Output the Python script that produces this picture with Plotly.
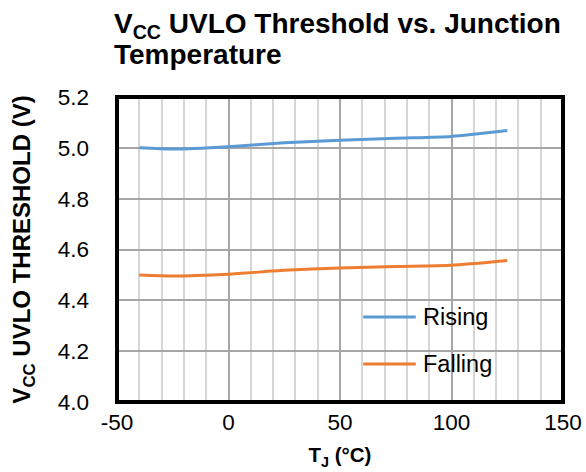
import plotly.graph_objects as go

# Junction temperature (°C) and UVLO thresholds (V)
temp_c = [-40, -25, 0, 25, 50, 75, 100, 125]
rising_v = [5.000, 4.995, 5.004, 5.020, 5.030, 5.038, 5.045, 5.068]
falling_v = [4.500, 4.496, 4.503, 4.518, 4.527, 4.533, 4.538, 4.557]
series_names = ["Rising", "Falling"]
series_colors = ["#5B9BD5", "#ED7D31"]
x_ticks = [-50, 0, 50, 100, 150]
x_tick_text = ["-50", "0", "50", "100", "150"]
title_lines = ["V<sub>CC</sub> UVLO Threshold vs. Junction", "Temperature"]

FONT = "Liberation Sans, Arial, sans-serif"

fig = go.Figure()
for name, vals, color in zip(series_names, [rising_v, falling_v], series_colors):
    fig.add_trace(go.Scatter(
        x=temp_c, y=vals, name=name, mode="lines",
        line=dict(color=color, width=3, shape="spline", smoothing=0.6),
        showlegend=False,
    ))

# Legend panel: white box over the gridlines, with line samples and labels
fig.add_shape(type="rect", xref="paper", yref="paper",
              x0=0.439, x1=0.953, y0=0.046, y1=0.357,
              fillcolor="white", line=dict(width=0), layer="between")
legend_y = [0.279, 0.125]
for name, color, ly in zip(series_names, series_colors, legend_y):
    fig.add_shape(type="line", xref="paper", yref="paper",
                  x0=0.552, x1=0.670, y0=ly, y1=ly,
                  line=dict(color=color, width=3))
    fig.add_annotation(text=name, xref="paper", yref="paper",
                       x=0.681, y=ly, xanchor="left", yanchor="middle",
                       showarrow=False, font=dict(family=FONT, size=23.5, color="black"))

# Two-line chart title
for line, ypx in zip(title_lines, [25, 55]):
    fig.add_annotation(text=line, xref="paper", yref="paper",
                       x=(112 - 117) / 446, y=1 + (97 - ypx) / 305,
                       xanchor="left", yanchor="middle", showarrow=False,
                       font=dict(family=FONT, size=28, color="black", weight="bold"))

# Heavy frame around the plotting area
fig.add_shape(type="rect", xref="paper", yref="paper", x0=0, x1=1, y0=0, y1=1,
              line=dict(color="black", width=4), layer="above")

fig.update_layout(
    width=586, height=472,
    margin=dict(l=117, r=23, t=97, b=70),
    paper_bgcolor="white", plot_bgcolor="white",
    font=dict(family=FONT, color="black"),
)

fig.update_xaxes(
    range=[-50, 150], tickvals=x_ticks, ticktext=x_tick_text,
    showgrid=True, gridcolor="#a6a6a6", gridwidth=1.5,
    minor=dict(dtick=10, tick0=-50, showgrid=True, gridcolor="#d6d6d6", gridwidth=1.5),
    zeroline=False, showline=False, ticks="", ticklabelstandoff=4,
    automargin=False,
    tickfont=dict(family=FONT, size=22.5, color="black"),
    title=dict(text="T<sub>J</sub> (°C)", standoff=14,
               font=dict(family=FONT, size=20.5, color="black", weight="bold")),
)
fig.update_yaxes(
    range=[4.0, 5.2], dtick=0.2, tick0=4.0, tickformat=".1f",
    showgrid=True, gridcolor="#a6a6a6", gridwidth=1.5,
    zeroline=False, showline=False, ticks="", ticklabelstandoff=27,
    automargin=False,
    tickfont=dict(family=FONT, size=22.5, color="black"),
    title=dict(text="V<sub>CC</sub> UVLO THRESHOLD (V)", standoff=20,
               font=dict(family=FONT, size=24, color="black", weight="bold")),
)

fig.write_html("out.html")
